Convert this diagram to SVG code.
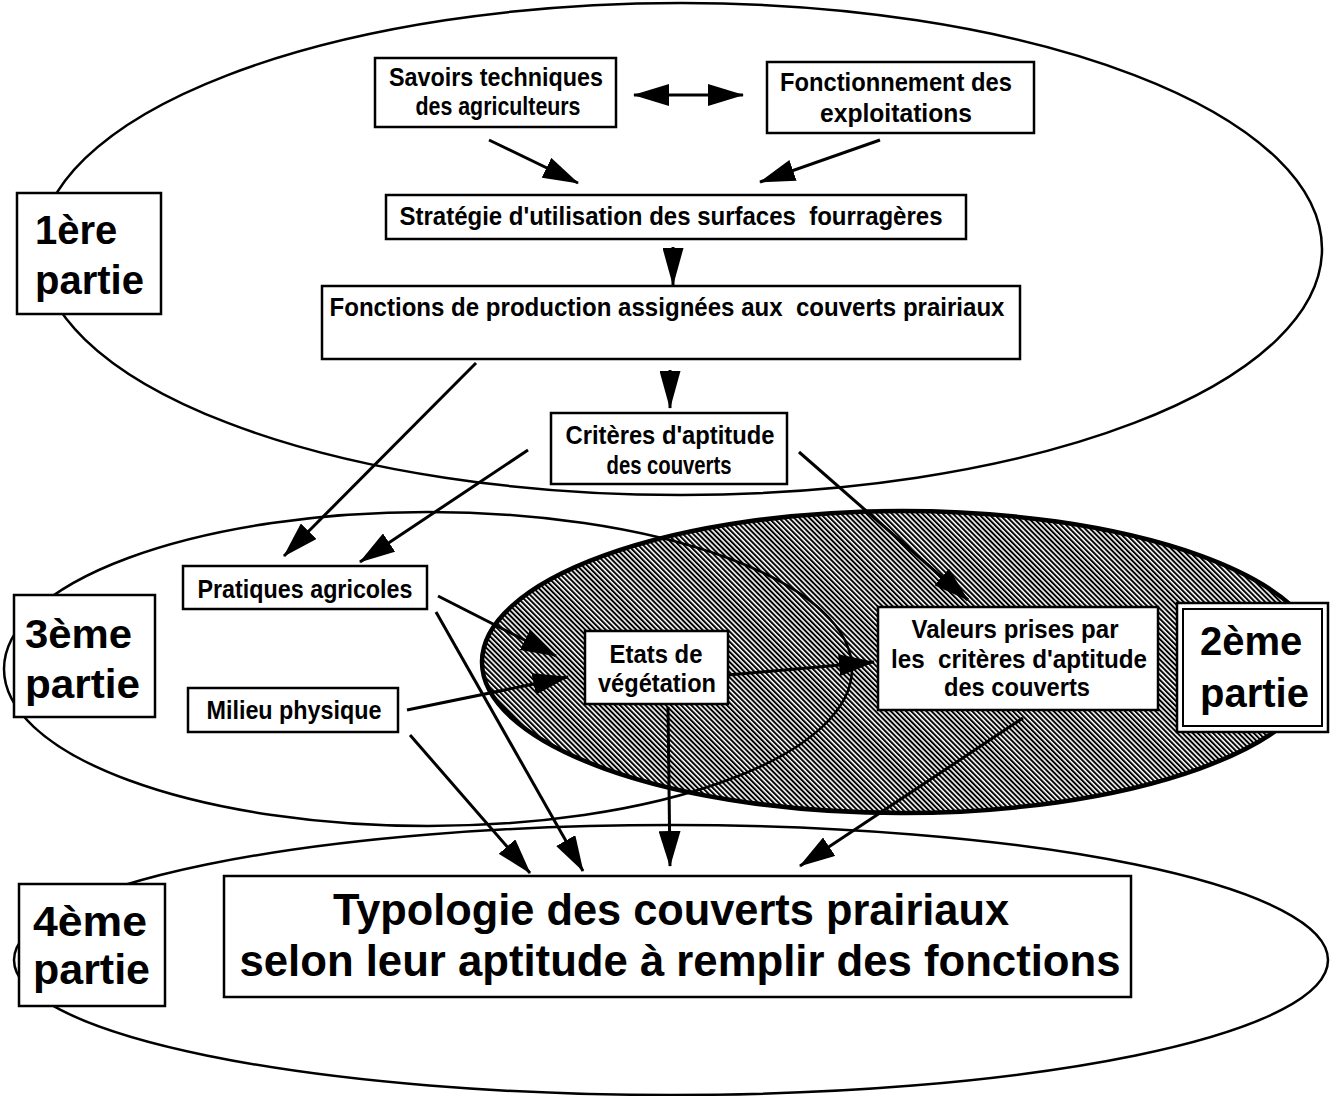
<svg xmlns="http://www.w3.org/2000/svg" width="1330" height="1096" viewBox="0 0 1330 1096">
<style>
.reg{fill:none;stroke:#000;stroke-width:2.5}
.box{fill:#fff;stroke:#000;stroke-width:2.5}
.t{font-family:"Liberation Sans",Arial,sans-serif;font-weight:bold;font-size:25px;fill:#000;text-anchor:middle}
.big{font-family:"Liberation Sans",Arial,sans-serif;font-weight:bold;font-size:40px;fill:#000}
.ty{font-family:"Liberation Sans",Arial,sans-serif;font-weight:bold;font-size:44px;fill:#000;text-anchor:middle}
.c{fill:none;stroke:#000;stroke-width:3;marker-end:url(#head)}
.ct{fill:none;stroke:#000;stroke-width:3;marker-end:url(#tall)}
</style>
<defs>
<pattern id="hatch" width="3.6" height="3.6" patternUnits="userSpaceOnUse" patternTransform="rotate(-45)">
<rect x="0" y="0" width="3.6" height="3.6" fill="#fff"/>
<rect x="0" y="0" width="2" height="3.6" fill="#000"/>
</pattern>
<marker id="head" viewBox="0 0 36 22" refX="35" refY="11" markerWidth="36" markerHeight="22" markerUnits="userSpaceOnUse" orient="auto-start-reverse">
<path d="M0,0 L36,11 L0,22 Z" fill="#000"/>
</marker>
<marker id="tall" viewBox="0 0 38 21" refX="37" refY="10.5" markerWidth="38" markerHeight="21" markerUnits="userSpaceOnUse" orient="auto">
<path d="M0,0 L38,10.5 L0,21 Z" fill="#000"/>
</marker>
</defs>
<rect x="0" y="0" width="1330" height="1096" fill="#fff"/>

<g id="regions">
<ellipse id="region-2" cx="902" cy="662" rx="420" ry="151" fill="url(#hatch)" stroke="#000" stroke-width="4.5"/>
<ellipse id="region-1" class="reg" cx="681" cy="249" rx="641" ry="246"/>
<ellipse id="region-3" class="reg" cx="428" cy="669" rx="424" ry="157"/>
<ellipse id="region-4" class="reg" cx="671" cy="960" rx="657" ry="135"/>
</g>

<g id="connectors">
<line class="c" x1="634" y1="95" x2="743" y2="95" style="marker-start:url(#head)"/>
<line class="c" x1="489" y1="140" x2="578" y2="183"/>
<line class="c" x1="880" y1="140" x2="760" y2="182"/>
<line class="ct" x1="673" y1="247" x2="673" y2="285"/>
<line class="ct" x1="670" y1="370" x2="670" y2="408"/>
<line class="c" x1="476" y1="363" x2="284" y2="556"/>
<line class="c" x1="528" y1="450" x2="360" y2="562"/>
<line class="c" x1="799" y1="452" x2="968" y2="600"/>
<line class="c" x1="438" y1="596" x2="556" y2="656"/>
<line class="c" x1="407" y1="710" x2="568" y2="677"/>
<line class="c" x1="728" y1="675" x2="874" y2="662"/>
<line class="c" x1="436" y1="612" x2="583" y2="871"/>
<line class="c" x1="410" y1="735" x2="530" y2="873"/>
<line class="c" x1="668" y1="707" x2="670" y2="866"/>
<line class="c" x1="1023" y1="718" x2="800" y2="866"/>
</g>

<g id="savoirs">
<rect class="box" x="375" y="58" width="241" height="69"/>
<text class="t" x="496" y="86" textLength="214" lengthAdjust="spacingAndGlyphs">Savoirs techniques</text>
<text class="t" x="498" y="115" textLength="165" lengthAdjust="spacingAndGlyphs">des agriculteurs</text>
</g>
<g id="fonctionnement">
<rect class="box" x="767" y="62" width="267" height="71"/>
<text class="t" x="896" y="91" textLength="232" lengthAdjust="spacingAndGlyphs">Fonctionnement des</text>
<text class="t" x="896" y="122" textLength="152" lengthAdjust="spacingAndGlyphs">exploitations</text>
</g>
<g id="strategie">
<rect class="box" x="386" y="195" width="580" height="44"/>
<text class="t" x="671" y="225" xml:space="preserve" textLength="543" lengthAdjust="spacingAndGlyphs">Stratégie d'utilisation des surfaces  fourragères</text>
</g>
<g id="fonctions">
<rect class="box" x="322" y="286" width="698" height="73"/>
<text class="t" x="667" y="316" xml:space="preserve" textLength="675" lengthAdjust="spacingAndGlyphs">Fonctions de production assignées aux  couverts prairiaux</text>
</g>
<g id="criteres">
<rect class="box" x="551" y="413" width="236" height="71"/>
<text class="t" x="670" y="444" textLength="209" lengthAdjust="spacingAndGlyphs">Critères d'aptitude</text>
<text class="t" x="669" y="474" textLength="125" lengthAdjust="spacingAndGlyphs">des couverts</text>
</g>
<g id="pratiques">
<rect class="box" x="183" y="566" width="244" height="43"/>
<text class="t" x="305" y="598" textLength="215" lengthAdjust="spacingAndGlyphs">Pratiques agricoles</text>
</g>
<g id="milieu">
<rect class="box" x="188" y="688" width="210" height="44"/>
<text class="t" x="294" y="719" textLength="175" lengthAdjust="spacingAndGlyphs">Milieu physique</text>
</g>
<g id="etats">
<rect class="box" x="585" y="631" width="143" height="73"/>
<text class="t" x="656" y="663" textLength="93" lengthAdjust="spacingAndGlyphs">Etats de</text>
<text class="t" x="657" y="692" textLength="118" lengthAdjust="spacingAndGlyphs">végétation</text>
</g>
<g id="valeurs">
<rect class="box" x="878" y="607" width="280" height="103"/>
<text class="t" x="1015" y="638" textLength="207" lengthAdjust="spacingAndGlyphs">Valeurs prises par</text>
<text class="t" x="1019" y="668" xml:space="preserve" textLength="256" lengthAdjust="spacingAndGlyphs">les  critères d'aptitude</text>
<text class="t" x="1017" y="696" textLength="146" lengthAdjust="spacingAndGlyphs">des couverts</text>
</g>
<g id="partie-1">
<rect class="box" x="17" y="193" width="144" height="121"/>
<text class="big" x="35" y="244">1ère</text>
<text class="big" x="35" y="294">partie</text>
</g>
<g id="partie-2">
<rect class="box" x="1177" y="603" width="151" height="129"/>
<rect fill="none" stroke="#000" stroke-width="2" x="1183" y="609" width="139" height="117"/>
<text class="big" x="1200" y="655">2ème</text>
<text class="big" x="1200" y="707">partie</text>
</g>
<g id="partie-3">
<rect class="box" x="14" y="595" width="141" height="122"/>
<text class="big" x="25" y="648" textLength="107" lengthAdjust="spacingAndGlyphs">3ème</text>
<text class="big" x="25" y="698" textLength="115" lengthAdjust="spacingAndGlyphs">partie</text>
</g>
<g id="partie-4">
<rect class="box" x="19" y="884" width="146" height="122"/>
<text class="big" x="33" y="936" style="font-size:42px" textLength="114" lengthAdjust="spacingAndGlyphs">4ème</text>
<text class="big" x="33" y="984" style="font-size:42px" textLength="117" lengthAdjust="spacingAndGlyphs">partie</text>
</g>
<g id="typologie">
<rect class="box" x="224" y="876" width="907" height="121"/>
<text class="ty" x="671" y="925" textLength="676" lengthAdjust="spacingAndGlyphs">Typologie des couverts prairiaux</text>
<text class="ty" x="680" y="976" textLength="881" lengthAdjust="spacingAndGlyphs">selon leur aptitude à remplir des fonctions</text>
</g>
</svg>
